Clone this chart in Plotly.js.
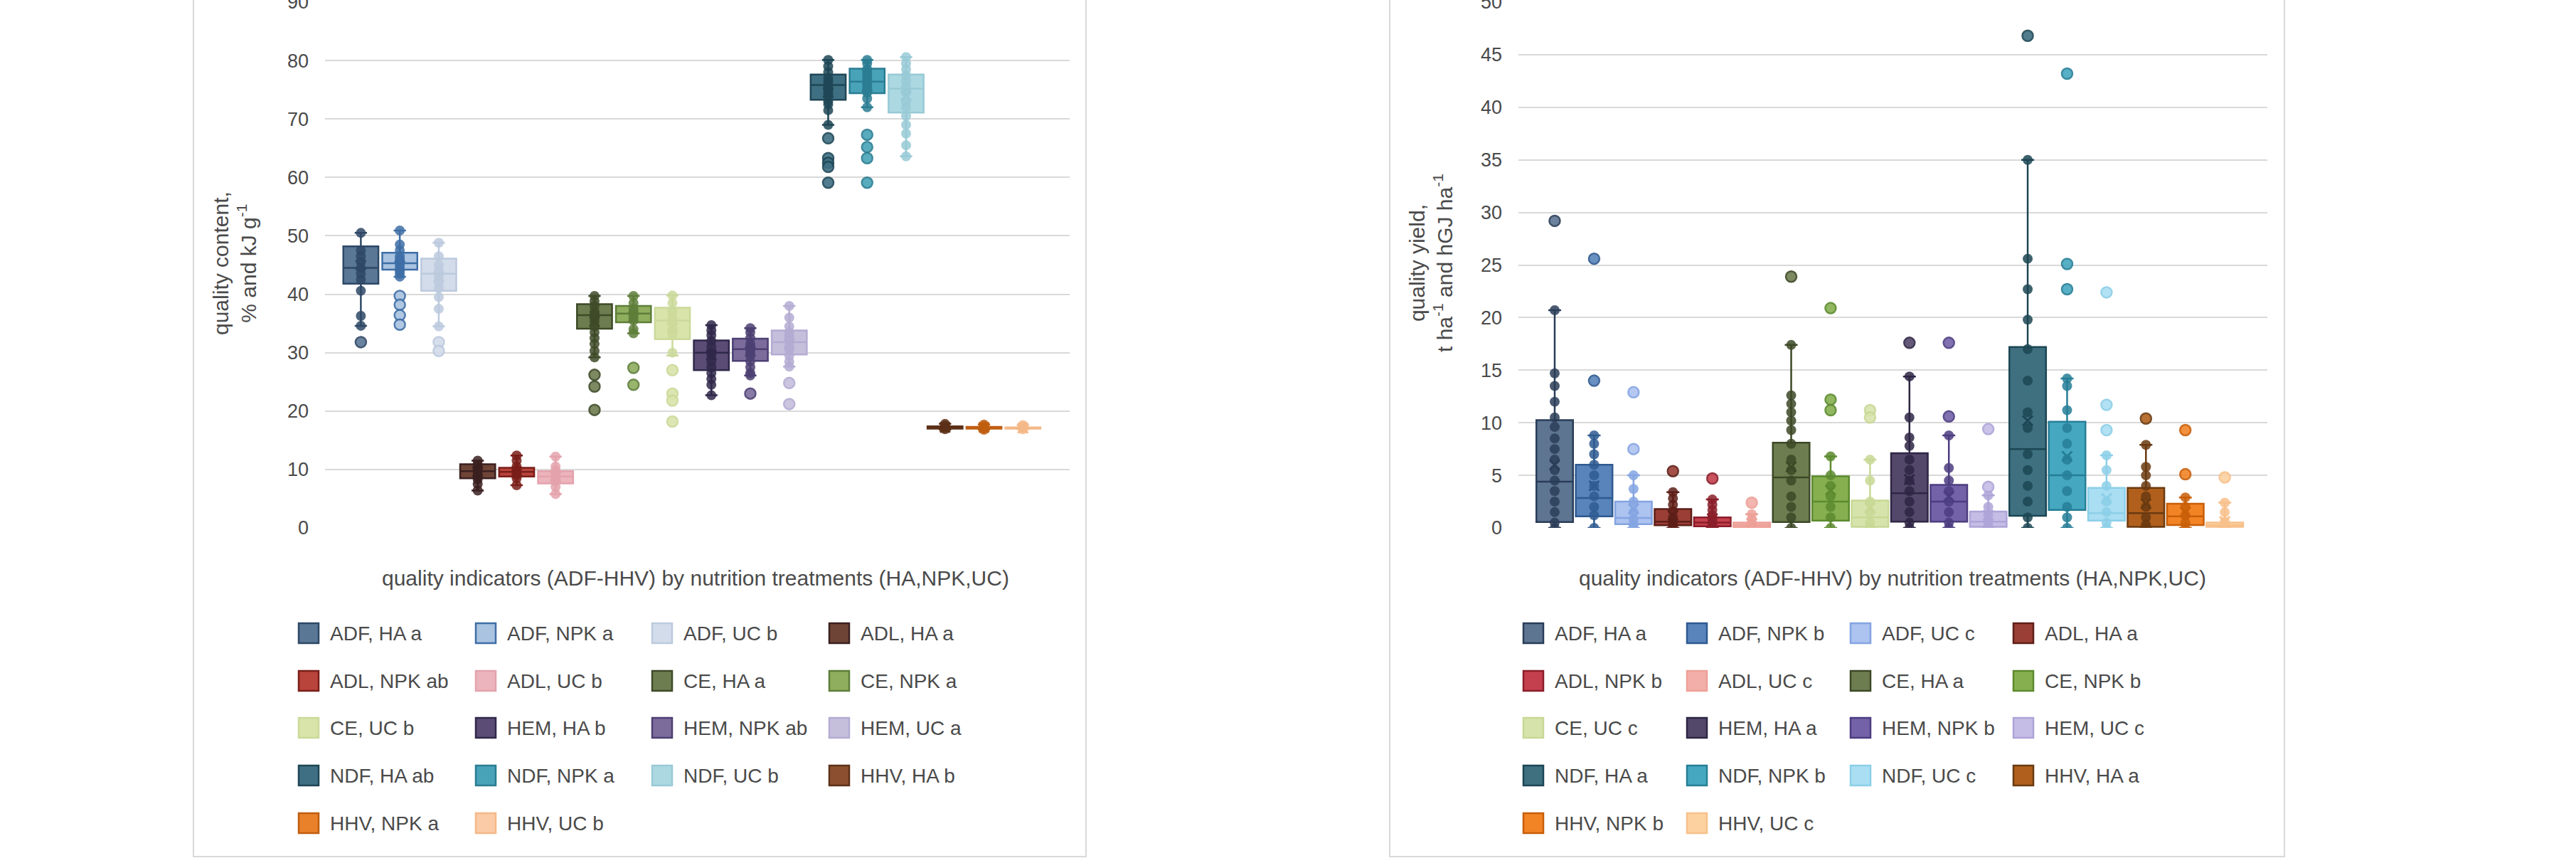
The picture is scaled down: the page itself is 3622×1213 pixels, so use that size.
<!DOCTYPE html>
<html><head><meta charset="utf-8">
<script src="https://cdn.plot.ly/plotly-3.0.1.min.js"></script>
<style>html,body{margin:0;padding:0;background:#fff;}#chart{width:3622px;height:1213px;}</style>
</head><body><div id="chart"></div>
<script>
// ---------- DATA ----------
const indicators = ["ADF","ADL","CE","HEM","NDF","HHV"];
const treatments = ["HA","NPK","UC"];
const letters1 = ["a","a","b","a","ab","b","a","a","b","b","ab","a","ab","a","b","b","a","b"];
const letters2 = ["a","b","c","a","b","c","a","b","c","a","b","c","a","b","c","a","b","c"];

// chart 1: quality content (% and kJ g-1)
const c1_lower  = [34.6,43.0,34.5, 6.4,7.3,5.8, 29.2,33.3,29.5, 22.7,26.1,27.6, 69.0,72.0,63.6, 16.8,16.8,16.9];
const c1_q1     = [41.8,44.2,40.6, 8.5,8.8,7.6, 34.1,35.2,32.3, 27.0,28.6,29.7, 73.3,74.4,71.1, 17.0,17.0,17.0];
const c1_median = [44.5,45.3,43.5, 9.7,9.6,8.8, 36.4,36.7,35.5, 30.0,30.6,31.8, 75.8,76.4,75.2, 17.2,17.2,17.1];
const c1_q3     = [48.2,47.1,46.1, 10.9,10.3,9.7, 38.3,38.0,37.7, 32.1,32.4,33.8, 77.6,78.6,77.6, 17.4,17.3,17.2];
const c1_upper  = [50.5,50.9,48.8, 11.5,12.4,12.2, 39.7,39.7,39.8, 34.7,34.2,38.0, 80.1,80.1,80.6, 17.8,17.7,17.6];
const c1_mean   = [45.0,44.9,43.0, 9.6,9.6,8.7, 35.3,36.0,34.3, 29.6,30.2,31.5, 74.5,75.6,74.0, 17.2,17.2,17.1];
const c1_points = [
  [50.5,47.5,46.5,45.5,44.5,43.5,42.5,40.6,36.3,34.6,31.8],
  [50.9,48.5,47.5,46.5,46,45.5,45,44.5,44,43.5,43,39.7,38.2,36.4,34.8],
  [48.8,46.5,45,44,43,42,41,39.5,37.5,34.5,31.8,30.3],
  [11.5,10.8,10.2,9.8,9.3,8.8,8.3,7.5,6.4],
  [12.4,11.5,10.5,10,9.7,9.3,9,8.5,7.3],
  [12.2,10.5,9.8,9,8.5,8,7,5.8],
  [39.7,38.8,38,37,36.5,36,35.3,34.5,33.5,32.5,31.5,30.3,29.2,26.2,24.2,20.2],
  [39.7,38.5,37.5,37,36.5,36,35.5,34,33.3,27.4,24.5],
  [39.8,38.5,37,36,35,34,33,30,27,23,21.8,18.2],
  [34.7,33.8,33,32,31,30,29.5,28.5,27.5,26.5,25.5,24.5,22.7],
  [34.2,33.5,32.5,31.5,31,30.5,30,29.5,28.5,27.5,26.5,26.1,23.0],
  [38,36,34.5,33.5,33,32.5,32,31,30.5,29.5,28.5,27.6,24.8,21.2],
  [80.1,79,78,77,76.5,76,75.5,75,74.5,74,73,72.5,71.5,69,66.7,63.3,62.5,61.8,59.1],
  [80.1,79.5,78.5,78,77.5,77,76.5,76,75.5,75,74.5,73.5,72,67.3,65.2,63.3,59.1],
  [80.6,79.5,78.5,77.5,76.5,75.5,74.5,73,72,70.5,69,67.5,65.5,63.6],
  [17.8,17.5,17.3,17.1,16.9],
  [17.7,17.4,17.2,17.0,16.8],
  [17.6,17.3,17.1,16.9]
];

// chart 2: quality yield (t ha-1 and hGJ ha-1)
const c2_lower  = [0,0,0, 0,0,0, 0,0,0, 0,0,0, 0,0,0, 0,0,0];
const c2_q1     = [0.55,1.1,0.35, 0.25,0.15,0.05, 0.55,0.7,0.1, 0.6,0.6,0.1, 1.15,1.7,0.7, 0.1,0.27,0.1];
const c2_median = [4.4,2.85,0.95, 0.6,0.5,0.25, 4.8,2.5,1.0, 3.3,2.5,0.6, 7.5,5.0,1.4, 1.4,1.1,0.25];
const c2_q3     = [10.25,6.0,2.5, 1.8,1.0,0.5, 8.1,4.9,2.6, 7.1,4.1,1.55, 17.2,10.1,3.8, 3.8,2.3,0.5];
const c2_upper  = [20.7,8.8,5.0, 3.4,2.7,1.3, 17.4,6.8,6.5, 14.4,8.8,3.1, 35.0,14.2,6.9, 7.9,2.9,2.4];
const c2_mean   = [6.0,4.0,1.8, 1.2,0.9,0.45, 5.8,3.6,1.9, 4.6,3.0,1.2, 10.2,6.8,2.8, 2.3,1.5,0.6];
const c2_points = [
  [29.2,20.7,14.7,13.5,12.0,10.5,9.6,8.5,7.5,6.5,5.5,4.5,3.5,2.5,1.5,0.5,0],
  [25.6,14.0,8.8,8.0,7.0,6.0,5.0,4.0,3.0,2.0,1.2,0],
  [12.9,7.5,5.0,3.7,2.5,1.5,0.8,0.3,0],
  [5.4,3.4,2.8,2.2,1.6,1.0,0.5,0.2,0],
  [4.7,2.7,2.2,1.7,1.2,0.8,0.4,0.1,0],
  [2.4,1.3,0.8,0.4,0.1,0],
  [23.9,17.4,12.6,11.8,11.0,10.2,9.3,8.0,6.5,5.5,4.5,3.0,2.0,1.0,0],
  [20.9,12.2,11.2,6.8,5.0,4.0,3.0,2.0,1.0,0],
  [11.2,10.5,6.5,4.5,2.5,1.5,0.5,0],
  [17.6,14.4,10.5,8.6,7.8,6.5,5.5,4.5,3.5,2.5,1.5,0.5,0],
  [17.6,10.6,8.8,5.7,4.5,3.5,2.5,1.5,0.5,0],
  [9.4,3.9,3.1,2.0,1.2,0.6,0.2,0],
  [46.8,35.0,25.6,22.7,19.8,17.0,14.0,11.0,9.5,7.0,5.5,4.0,2.5,1.0,0],
  [43.2,25.1,22.7,14.2,13.5,11.2,9.5,8.0,6.5,5.0,3.5,2.0,1.0,0],
  [22.4,11.7,9.3,6.9,5.5,4.0,2.5,1.5,0.5,0],
  [10.4,7.9,5.8,5.0,4.0,3.0,2.0,1.0,0.3,0],
  [9.3,5.1,2.9,2.0,1.2,0.5,0],
  [4.8,2.4,1.5,0.6,0.2,0]
];

const yTicks1 = [0,10,20,30,40,50,60,70,80,90];
const yTicks2 = [0,5,10,15,20,25,30,35,40,45,50];
const xTitle = "quality indicators (ADF-HHV) by nutrition treatments (HA,NPK,UC)";
const yTitle1 = "quality content,<br>% and kJ g<sup>-1</sup>";
const yTitle2 = "quality yield,<br>t ha<sup>-1</sup> and hGJ ha<sup>-1</sup>";

// ---------- STYLE ----------
const fill1 = ["#5a7796","#a9c3e0","#d3dcea","#6e4436","#b8443c","#ecb4bc","#6e7d50","#8fae5e","#d8e4aa","#5a4c74","#7b6c9c","#c6bfdc","#3f6f82","#48a2b8","#acd8e2","#8c5030","#e9812a","#facba6"];
const line1 = ["#2e4866","#3e6ea6","#bccade","#3b2020","#7a1e1a","#e4a2ac","#3e4a28","#5e7e3a","#cbd99a","#30284a","#4c3f72","#b4abd2","#1e4656","#2a7d92","#98cad6","#5c3018","#c05e10","#f5b888"];
const fill2 = ["#5e7592","#5884bb","#adc3f0","#9a3f35","#c5404e","#f2aea8","#6e7d50","#86b050","#d6e4ac","#54486a","#7462a8","#c6bde6","#3e7080","#45a8c0","#aadef2","#b0601c","#f28426","#fcd2a0"];
const line2 = ["#2a3d58","#2e5a90","#84a4e2","#5e1e18","#8a1e2a","#eda098","#3c4826","#5c8a2e","#c8d894","#2e2644","#4c3c80","#aea4d8","#1c4654","#267e96","#8ccfe8","#6a3a10","#c85e08","#f8c08a"];

const W = 3622, H = 1213;
const px = v => v / W;
const py = v => 1 - v / H;
const FONT = "Liberation Sans, Arial, sans-serif";
const TXT = "#4a4a4a";

const names1 = [], names2 = [];
indicators.forEach((ind, g) => treatments.forEach((tr, t) => {
  names1.push(ind + ", " + tr + " " + letters1[g*3+t]);
  names2.push(ind + ", " + tr + " " + letters2[g*3+t]);
}));

const traces = [];
function addChart(names, lo, q1, med, q3, up, mean, pts, fills, lines, xa, ya, bw) {
  names.forEach((nm, i) => {
    traces.push({
      type: "box", name: nm, x: [nm], q1: [q1[i]], median: [med[i]], q3: [q3[i]],
      lowerfence: [lo[i]], upperfence: [up[i]], boxpoints: false,
      width: bw, whiskerwidth: 0.35, fillcolor: fills[i],
      line: {color: lines[i], width: 2.5}, xaxis: xa, yaxis: ya,
      showlegend: false, hoverinfo: "y"
    });
  });
  names.forEach((nm, i) => {
    const inner = pts[i].filter(v => v >= lo[i] && v <= up[i]);
    const outer = pts[i].filter(v => v < lo[i] || v > up[i]);
    traces.push({
      type: "scatter", mode: "markers", x: inner.map(() => nm), y: inner,
      marker: {size: 14, color: lines[i], opacity: 0.85, line: {width: 0}},
      xaxis: xa, yaxis: ya, showlegend: false, hoverinfo: "y"
    });
    traces.push({
      type: "scatter", mode: "markers", x: outer.map(() => nm), y: outer,
      marker: {size: 15, color: fills[i], opacity: 0.9, line: {width: 2.5, color: lines[i]}},
      xaxis: xa, yaxis: ya, showlegend: false, hoverinfo: "y"
    });
    traces.push({
      type: "scatter", mode: "markers", x: [nm], y: [mean[i]],
      marker: {size: 14, symbol: "x-thin", color: lines[i], line: {width: 3, color: lines[i]}},
      xaxis: xa, yaxis: ya, showlegend: false, hoverinfo: "y"
    });
  });
}
addChart(names1, c1_lower, c1_q1, c1_median, c1_q3, c1_upper, c1_mean, c1_points, fill1, line1, "x", "y", 0.9);
addChart(names2, c2_lower, c2_q1, c2_median, c2_q3, c2_upper, c2_mean, c2_points, fill2, line2, "x2", "y2", 0.93);

const yDom = [py(742), py(3)];
const axY = (range, ticks) => ({
  range: range, tickvals: ticks, ticktext: ticks.map(String), showgrid: true,
  gridcolor: "#d9d9d9", gridwidth: 2, zeroline: false, showline: false, ticks: "",
  ticklabelstandoff: 22, ticklabeloverflow: "allow", tickfont: {family: FONT, size: 27, color: TXT}, fixedrange: true,
  domain: yDom
});
const axX = (dom, names, range) => ({
  type: "category", categoryorder: "array", categoryarray: names, range: range,
  showticklabels: false, showgrid: false, zeroline: false, showline: false, ticks: "",
  domain: dom, fixedrange: true
});

const shapes = [];
const annotations = [];
// panel borders
[[272, 1527], [1954, 3212]].forEach(([l, r]) => {
  shapes.push({type: "rect", xref: "paper", yref: "paper", x0: px(l), x1: px(r), y0: py(1204), y1: py(-20),
    line: {color: "#d9d9d9", width: 2}, fillcolor: "rgba(0,0,0,0)", layer: "below"});
});
// axis titles
function titles(xc, ytx, ytext) {
  annotations.push({xref: "paper", yref: "paper", x: px(xc), y: py(812), text: xTitle, showarrow: false,
    xanchor: "center", yanchor: "middle", font: {family: FONT, size: 30, color: TXT}});
  annotations.push({xref: "paper", yref: "paper", x: px(ytx), y: py(370), text: ytext, showarrow: false,
    textangle: -90, xanchor: "center", yanchor: "middle", align: "center",
    font: {family: FONT, size: 30, color: TXT}});
}
titles(978, 330, yTitle1);
titles(2661, 2012, yTitle2);
// legends
const rows = [890, 957, 1023, 1090, 1157];
function legend(names, fills, lines, cols) {
  names.forEach((nm, i) => {
    const cx = cols[i % 4], cy = rows[Math.floor(i / 4)];
    shapes.push({type: "rect", xref: "paper", yref: "paper", x0: px(cx - 14), x1: px(cx + 14),
      y0: py(cy + 14), y1: py(cy - 14), fillcolor: fills[i], line: {color: lines[i], width: 2.5}});
    annotations.push({xref: "paper", yref: "paper", x: px(cx + 28), y: py(cy), text: nm, showarrow: false,
      xanchor: "left", yanchor: "middle", font: {family: FONT, size: 28, color: TXT}});
  });
}
legend(names1, fill1, line1, [434, 683, 931, 1180]);
legend(names2, fill2, line2, [2156, 2386, 2616, 2845]);

const layout = {
  width: W, height: H, margin: {l: 0, r: 0, t: 0, b: 0}, paper_bgcolor: "#ffffff", plot_bgcolor: "rgba(0,0,0,0)",
  showlegend: false, boxmode: "overlay",
  xaxis: axX([px(457), px(1504)], names1, [-0.92, 18.2]),
  yaxis: Object.assign(axY([0, 90], yTicks1), {anchor: "x"}),
  xaxis2: Object.assign(axX([px(2135), px(3188)], names2, [-0.92, 18.08]), {anchor: "y2"}),
  yaxis2: Object.assign(axY([0, 50], yTicks2), {anchor: "x2"}),
  shapes: shapes, annotations: annotations
};
Plotly.newPlot("chart", traces, layout, {staticPlot: true, displayModeBar: false});
</script>
</body></html>
